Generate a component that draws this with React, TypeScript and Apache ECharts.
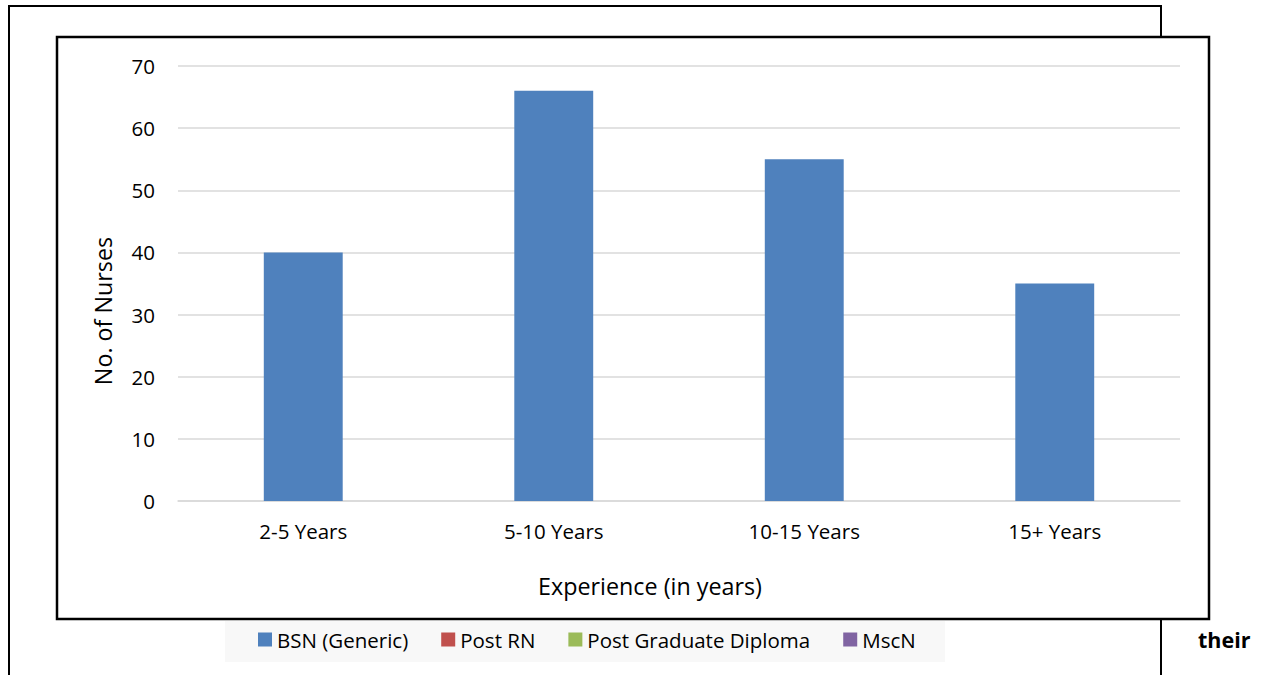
import React, { useEffect, useRef } from "react";
import * as echarts from "echarts";

const categories = ["2-5 Years", "5-10 Years", "10-15 Years", "15+ Years"];
const seriesNames = ["BSN (Generic)", "Post RN", "Post Graduate Diploma", "MscN"];
const bsnValues = [40, 66, 55, 35];
const postRnValues = [0, 0, 0, 0];
const pgdValues = [0, 0, 0, 0];
const mscnValues = [0, 0, 0, 0];
const colors = ["#4F81BD", "#C0504D", "#9BBB59", "#8064A2"];
const yAxisTitle = "No. of Nurses";
const xAxisTitle = "Experience (in years)";
const sideText = "their";

const FONT = "'Open Sans', 'Noto Sans', sans-serif";

export default function App() {
  const ref = useRef<HTMLDivElement>(null);
  useEffect(() => {
    document.body.style.margin = "0";
    const chart = echarts.init(ref.current!, null, { renderer: "svg" });
    const allValues = [bsnValues, postRnValues, pgdValues, mscnValues];
    chart.setOption({
      animation: false,
      textStyle: { fontFamily: FONT },
      grid: { left: 178, right: 82, top: 66, bottom: 174 },
      legend: {
        data: seriesNames,
        left: 258,
        top: 629,
        itemWidth: 14,
        itemHeight: 14,
        itemGap: 33,
        icon: "rect",
        padding: 0,
        textStyle: { fontSize: 20.5, color: "#000", fontFamily: FONT, padding: [0, 0, 0, 0] },
      },
      xAxis: {
        type: "category",
        data: categories,
        axisLine: { lineStyle: { color: "#D9D9D9", width: 1.5 } },
        axisTick: { show: false },
        axisLabel: { fontSize: 20.5, color: "#000", margin: 19, fontFamily: FONT },
      },
      yAxis: {
        type: "value",
        min: 0,
        max: 70,
        interval: 10,
        axisLine: { show: false },
        axisTick: { show: false },
        splitLine: { lineStyle: { color: "#D9D9D9", width: 1.5 } },
        axisLabel: { fontSize: 20.5, color: "#000", margin: 23, fontFamily: FONT },
      },
      series: seriesNames.map((name, i) => ({
        name,
        type: "bar",
        stack: "total",
        data: allValues[i],
        barWidth: "31.5%",
        itemStyle: { color: colors[i] },
      })),
      graphic: [
        {
          type: "rect",
          z: -10,
          shape: { x: 225, y: 621, width: 720, height: 41 },
          style: { fill: "#F8F8F8" },
        },
        {
          type: "polyline",
          shape: { points: [[9, 675], [9, 6], [1161, 6], [1161, 37]] },
          style: { stroke: "#000", lineWidth: 2, fill: "none" },
        },
        {
          type: "line",
          shape: { x1: 1161, y1: 620, x2: 1161, y2: 675 },
          style: { stroke: "#000", lineWidth: 2 },
        },
        {
          type: "rect",
          shape: { x: 57, y: 37, width: 1152, height: 582 },
          style: { stroke: "#000", lineWidth: 2.5, fill: "none" },
        },
        {
          type: "text",
          x: 103,
          y: 311,
          rotation: Math.PI / 2,
          style: {
            text: yAxisTitle,
            fontSize: 23.3,
            fontFamily: FONT,
            fill: "#000",
            align: "center",
            verticalAlign: "middle",
          },
        },
        {
          type: "text",
          x: 650,
          y: 586,
          style: {
            text: xAxisTitle,
            fontSize: 23.3,
            fontFamily: FONT,
            fill: "#000",
            align: "center",
            verticalAlign: "middle",
          },
        },
        {
          type: "text",
          x: 1198,
          y: 639,
          style: {
            text: sideText,
            fontSize: 21.5,
            fontWeight: "bold",
            fontFamily: FONT,
            fill: "#000",
            align: "left",
            verticalAlign: "middle",
          },
        },
      ],
    });
    return () => chart.dispose();
  }, []);
  return <div ref={ref} style={{ width: 1262, height: 675 }} />;
}
